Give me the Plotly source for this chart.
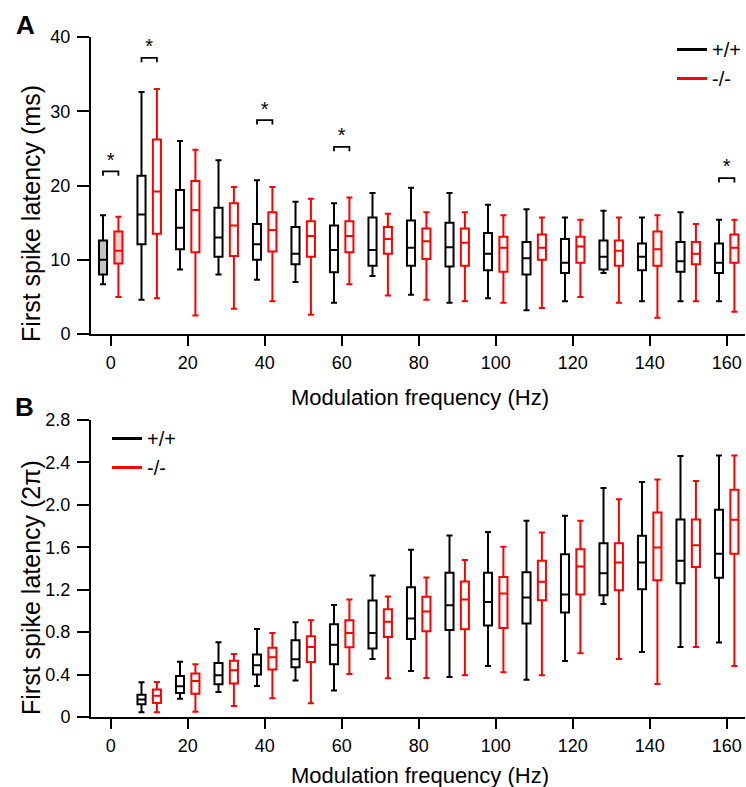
import plotly.graph_objects as go

# ---------------- data ----------------
freqs_A = [0, 10, 20, 30, 40, 50, 60, 70, 80, 90, 100, 110, 120, 130, 140, 150, 160]
# Panel A (ms): wild type (+/+)
A_wt_lo  = [6.7, 4.6, 8.7, 8.0, 7.3, 7.0, 4.2, 7.8, 5.3, 4.2, 4.8, 3.2, 4.4, 8.2, 4.4, 4.4, 4.4]
A_wt_q1  = [8.0, 12.1, 11.4, 10.4, 10.0, 9.4, 8.3, 9.2, 9.2, 9.1, 8.6, 8.0, 8.2, 8.7, 8.6, 8.4, 8.2]
A_wt_med = [10.0, 16.1, 14.3, 13.0, 12.1, 10.8, 11.3, 11.3, 11.6, 11.7, 10.8, 10.2, 9.6, 10.4, 10.4, 9.8, 9.6]
A_wt_q3  = [12.6, 21.3, 19.4, 17.0, 14.8, 14.4, 14.6, 15.7, 15.3, 15.0, 13.6, 12.4, 12.8, 12.6, 12.2, 12.4, 12.2]
A_wt_hi  = [16.0, 32.6, 26.0, 23.4, 20.7, 17.8, 17.6, 19.0, 19.7, 19.0, 17.4, 16.8, 15.7, 16.6, 15.7, 16.4, 15.4]
# Panel A (ms): knockout (-/-)
A_ko_lo  = [5.0, 4.8, 2.5, 3.4, 4.4, 2.6, 6.7, 5.2, 4.6, 4.4, 4.2, 3.5, 5.0, 4.2, 2.2, 4.4, 3.0]
A_ko_q1  = [9.5, 13.5, 11.0, 10.5, 11.1, 10.4, 11.0, 10.8, 10.1, 9.2, 8.4, 10.0, 9.6, 9.2, 9.2, 9.4, 9.6]
A_ko_med = [11.2, 19.2, 16.7, 14.6, 14.0, 13.2, 13.2, 12.8, 12.5, 12.3, 11.6, 11.6, 11.8, 11.2, 11.4, 10.8, 11.6]
A_ko_q3  = [13.8, 26.2, 20.6, 17.6, 16.4, 15.2, 15.2, 14.4, 14.2, 14.2, 13.1, 13.4, 13.1, 12.6, 13.8, 12.4, 13.4]
A_ko_hi  = [15.8, 33.0, 24.8, 19.8, 19.8, 18.2, 18.4, 16.2, 16.4, 16.4, 16.0, 15.7, 15.4, 15.7, 16.0, 14.8, 15.4]

# significance brackets in panel A
sig_freqs = [0, 10, 40, 60, 160]
sig_y     = [21.9, 37.2, 28.8, 25.2, 21.0]

freqs_B = [10, 20, 30, 40, 50, 60, 70, 80, 90, 100, 110, 120, 130, 140, 150, 160]
# Panel B (2π): wild type (+/+)
B_wt_lo  = [0.044, 0.173, 0.236, 0.293, 0.343, 0.249, 0.547, 0.434, 0.378, 0.481, 0.352, 0.529, 1.066, 0.613, 0.661, 0.702]
B_wt_q1  = [0.12, 0.226, 0.308, 0.40, 0.469, 0.497, 0.645, 0.736, 0.821, 0.862, 0.881, 0.985, 1.148, 1.205, 1.262, 1.312]
B_wt_med = [0.164, 0.29, 0.393, 0.488, 0.544, 0.68, 0.793, 0.928, 1.054, 1.085, 1.126, 1.155, 1.356, 1.457, 1.472, 1.538]
B_wt_q3  = [0.21, 0.387, 0.51, 0.59, 0.724, 0.875, 1.098, 1.224, 1.359, 1.359, 1.365, 1.535, 1.639, 1.708, 1.862, 1.954]
B_wt_hi  = [0.327, 0.52, 0.705, 0.83, 0.893, 1.057, 1.334, 1.576, 1.711, 1.743, 1.85, 1.897, 2.158, 2.215, 2.46, 2.466]
# Panel B (2π): knockout (-/-)
B_ko_lo  = [0.044, 0.05, 0.104, 0.176, 0.129, 0.406, 0.365, 0.368, 0.393, 0.422, 0.393, 0.601, 0.547, 0.311, 0.661, 0.481]
B_ko_q1  = [0.132, 0.22, 0.315, 0.447, 0.519, 0.657, 0.755, 0.808, 0.827, 0.84, 1.10, 1.155, 1.195, 1.29, 1.413, 1.538]
B_ko_med = [0.20, 0.34, 0.44, 0.563, 0.66, 0.793, 0.897, 0.994, 1.107, 1.164, 1.274, 1.419, 1.457, 1.598, 1.62, 1.859]
B_ko_q3  = [0.26, 0.41, 0.53, 0.654, 0.761, 0.912, 1.016, 1.133, 1.277, 1.321, 1.472, 1.582, 1.639, 1.928, 1.862, 2.142]
B_ko_hi  = [0.33, 0.497, 0.595, 0.793, 0.912, 1.107, 1.136, 1.315, 1.479, 1.604, 1.74, 1.85, 2.054, 2.24, 2.224, 2.466]

x_ticks = [0, 20, 40, 60, 80, 100, 120, 140, 160]
yA_ticks = [0, 10, 20, 30, 40]
yB_ticks = [0, 0.4, 0.8, 1.2, 1.6, 2.0, 2.4, 2.8]
yB_ticktext = ["0", "0.4", "0.8", "1.2", "1.6", "2.0", "2.4", "2.8"]

# ---------------- style ----------------
FONT = "Arial, Liberation Sans, sans-serif"
BLACK = "#000000"
RED = "#ff0000"
OFFSET = 2.0
BOXW = 2.1
W, H = 746, 787
ML, MR = 91, 1
PW = W - ML - MR

fig = go.Figure()


def add_boxes(xs, lo, q1, med, q3, hi, color, fill, xa, ya, sl=slice(None)):
    fig.add_trace(go.Box(
        x=xs[sl], lowerfence=lo[sl], q1=q1[sl], median=med[sl], q3=q3[sl], upperfence=hi[sl],
        width=BOXW, whiskerwidth=0.75, line=dict(color=color, width=2),
        fillcolor=fill, boxpoints=False, showlegend=False, hoverinfo="skip",
        xaxis=xa, yaxis=ya))


# Panel A
xa_wt = [f - OFFSET for f in freqs_A]
xa_ko = [f + OFFSET for f in freqs_A]
add_boxes(xa_wt, A_wt_lo, A_wt_q1, A_wt_med, A_wt_q3, A_wt_hi, BLACK, "#c4c4c4", "x", "y", slice(0, 1))
add_boxes(xa_wt, A_wt_lo, A_wt_q1, A_wt_med, A_wt_q3, A_wt_hi, BLACK, "rgba(255,255,255,0)", "x", "y", slice(1, None))
add_boxes(xa_ko, A_ko_lo, A_ko_q1, A_ko_med, A_ko_q3, A_ko_hi, RED, "#ffcccc", "x", "y", slice(0, 1))
add_boxes(xa_ko, A_ko_lo, A_ko_q1, A_ko_med, A_ko_q3, A_ko_hi, RED, "rgba(255,255,255,0)", "x", "y", slice(1, None))

# Panel B
xb_wt = [f - OFFSET for f in freqs_B]
xb_ko = [f + OFFSET for f in freqs_B]
add_boxes(xb_wt, B_wt_lo, B_wt_q1, B_wt_med, B_wt_q3, B_wt_hi, BLACK, "rgba(255,255,255,0)", "x2", "y2")
add_boxes(xb_ko, B_ko_lo, B_ko_q1, B_ko_med, B_ko_q3, B_ko_hi, RED, "rgba(255,255,255,0)", "x2", "y2")

# significance brackets
bx, by = [], []
for f, yv in zip(sig_freqs, sig_y):
    bx += [f - OFFSET, f - OFFSET, f + OFFSET, f + OFFSET, None]
    by += [yv - 0.6, yv, yv, yv - 0.6, None]
fig.add_trace(go.Scatter(x=bx, y=by, mode="lines", line=dict(color=BLACK, width=1.8),
                         showlegend=False, hoverinfo="skip", xaxis="x", yaxis="y"))
fig.add_trace(go.Scatter(x=list(sig_freqs), y=[v + 1.3 for v in sig_y], mode="text", text=["*"] * len(sig_freqs),
                         textfont=dict(family=FONT, size=20, color=BLACK), textposition="middle center",
                         showlegend=False, hoverinfo="skip", xaxis="x", yaxis="y"))

# legend entries
for name, col, lg, grp in [("+/+", BLACK, "legend", "a1"), ("-/-", RED, "legend", "a2"),
                           ("+/+", BLACK, "legend2", "b1"), ("-/-", RED, "legend2", "b2")]:
    xa, ya = ("x", "y") if lg == "legend" else ("x2", "y2")
    fig.add_trace(go.Scatter(x=[None], y=[None], mode="lines", name=name, line=dict(color=col, width=3),
                             legend=lg, legendgroup=grp, xaxis=xa, yaxis=ya))

domA = [1 - 334 / H, 1 - 37 / H]
domB = [1 - 717 / H, 1 - 420 / H]
xr = [(ML - 110.7) / 3.85, (W - MR - 110.7) / 3.85]

axis_common = dict(showline=True, linecolor=BLACK, linewidth=2, ticks="outside", tickwidth=2,
                   tickcolor=BLACK, showgrid=False, zeroline=False, automargin=False,
                   tickfont=dict(family=FONT, size=18, color=BLACK))
xaxis_style = dict(ticklen=10, ticklabelstandoff=1, **axis_common)
yaxis_style = dict(ticklen=12, ticklabelstandoff=3, **axis_common)


def px_x(p):
    return (p - ML) / PW


def px_y(p):
    return 1 - p / H


annotations = [
    dict(text="<b>A</b>", x=px_x(25.5), y=px_y(25)),
    dict(text="<b>B</b>", x=px_x(24.5), y=px_y(407)),
]
for a in annotations:
    a.update(xref="paper", yref="paper", showarrow=False, xanchor="center", yanchor="middle",
             font=dict(family=FONT, size=26, color=BLACK))

titles = [
    dict(text="Modulation frequency (Hz)", x=px_x(420), y=px_y(397), textangle=0, size=22),
    dict(text="Modulation frequency (Hz)", x=px_x(420), y=px_y(775), textangle=0, size=22),
    dict(text="First spike latency (ms)", x=px_x(31), y=px_y(214), textangle=-90, size=25),
    dict(text="First spike latency (2π)", x=px_x(31), y=px_y(588), textangle=-90, size=25),
]
for t in titles:
    annotations.append(dict(text=t["text"], x=t["x"], y=t["y"], xref="paper", yref="paper",
                            showarrow=False, xanchor="center", yanchor="middle", textangle=t["textangle"],
                            font=dict(family=FONT, size=t["size"], color=BLACK)))

fig.update_layout(
    width=W, height=H, margin=dict(l=ML, r=MR, t=0, b=0, autoexpand=False),
    paper_bgcolor="white", plot_bgcolor="white",
    boxmode="overlay", font=dict(family=FONT, color=BLACK),
    xaxis=dict(domain=[0, 1], anchor="y", range=xr, tickvals=x_ticks, **xaxis_style),
    yaxis=dict(domain=domA, anchor="x", range=[0, 40], tickvals=yA_ticks, **yaxis_style),
    xaxis2=dict(domain=[0, 1], anchor="y2", range=xr, tickvals=x_ticks, **xaxis_style),
    yaxis2=dict(domain=domB, anchor="x2", range=[0, 2.8], tickvals=yB_ticks, ticktext=yB_ticktext,
                **yaxis_style),
    legend=dict(x=px_x(672), y=px_y(30), xanchor="left", yanchor="top",
                font=dict(family=FONT, size=20, color=BLACK), bgcolor="rgba(0,0,0,0)",
                tracegroupgap=0, itemwidth=30),
    legend2=dict(x=px_x(107), y=px_y(419), xanchor="left", yanchor="top",
                 font=dict(family=FONT, size=20, color=BLACK), bgcolor="rgba(0,0,0,0)",
                 tracegroupgap=0, itemwidth=30),
    annotations=annotations,
)

fig.write_html("out.html")
